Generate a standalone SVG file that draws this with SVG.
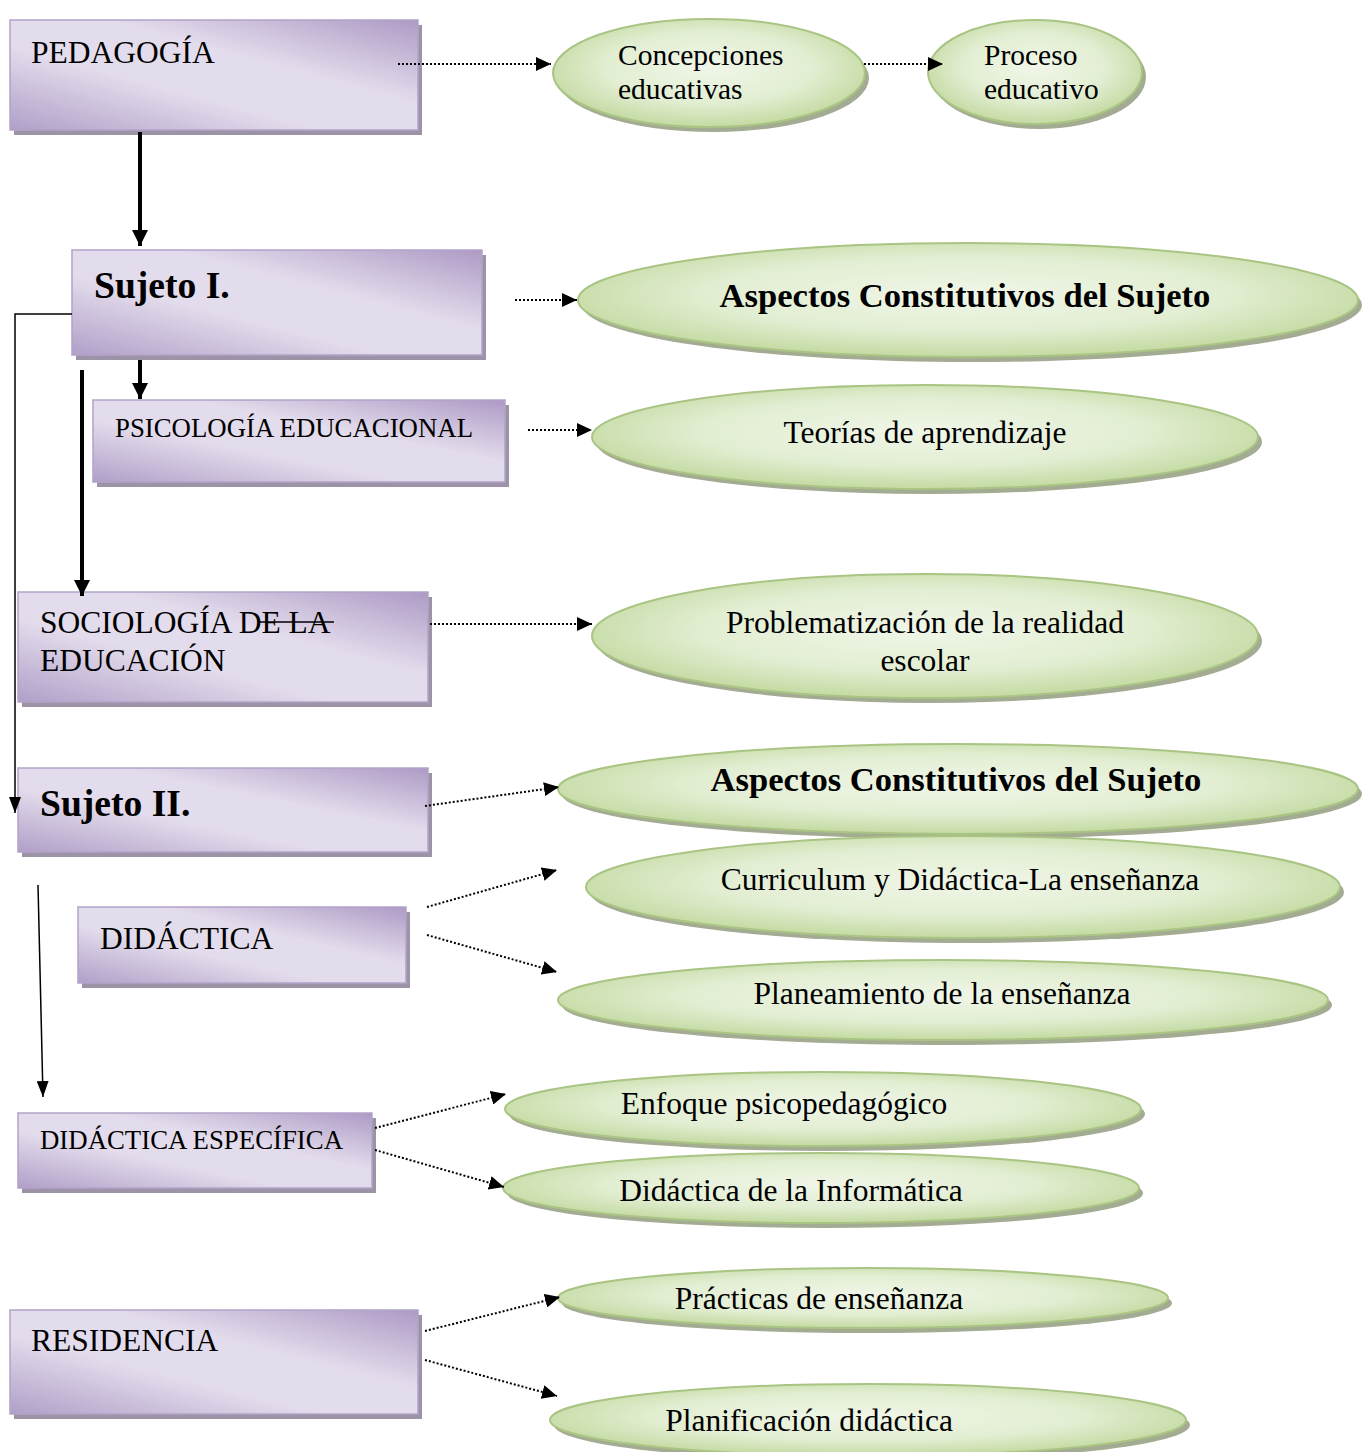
<svg xmlns="http://www.w3.org/2000/svg" width="1368" height="1452" viewBox="0 0 1368 1452">
<defs>
<linearGradient id="gRect" x1="1" y1="0" x2="0" y2="1">
<stop offset="0" stop-color="#ad9ac5"/>
<stop offset="0.38" stop-color="#e3dcec"/>
<stop offset="0.62" stop-color="#e3dcec"/>
<stop offset="1" stop-color="#b09fc8"/>
</linearGradient>
<radialGradient id="gEll" cx="0.5" cy="0.45" r="0.55">
<stop offset="0" stop-color="#f0f6e8"/>
<stop offset="0.6" stop-color="#e2eed2"/>
<stop offset="1" stop-color="#c4daa2"/>
</radialGradient>
<marker id="ah" markerUnits="userSpaceOnUse" markerWidth="16" markerHeight="14" refX="15" refY="7" orient="auto">
<path d="M0,0 L15,7 L0,14 z" fill="#000"/>
</marker>
<marker id="ahBig" markerUnits="userSpaceOnUse" markerWidth="16" markerHeight="16" refX="16" refY="8" orient="auto">
<path d="M0,0 L16,8 L0,16 z" fill="#000"/>
</marker>
<marker id="ahThin" markerUnits="userSpaceOnUse" markerWidth="16" markerHeight="12" refX="16" refY="6" orient="auto">
<path d="M0,0 L16,6 L0,12 z" fill="#000"/>
</marker>
</defs>
<style>
.shadow{fill:#9c94a6}
.box{fill:url(#gRect);stroke:#b3a3c9;stroke-width:1.5}
.eshadow{fill:#a3ab92}
.ell{fill:url(#gEll);stroke:#a9c483;stroke-width:2}
text{font-family:"Liberation Serif","Times New Roman",serif;fill:#000}
.t28{font-size:31.5px}
.t26{font-size:29.5px}
.t24{font-size:26.8px}
.b34{font-size:37.6px;font-weight:bold}
.b30{font-size:34.6px;font-weight:bold}
.dot{stroke:#000;stroke-width:2;stroke-dasharray:2 2;fill:none;marker-end:url(#ah)}
.thick{stroke:#000;stroke-width:4;fill:none;marker-end:url(#ahBig)}
.thin{stroke:#000;stroke-width:1.5;fill:none;marker-end:url(#ahThin)}
</style>

<g id="pedagogia">
<rect class="shadow" x="14" y="25" width="408" height="110"/>
<rect class="box" x="10" y="20" width="408" height="110"/>
<text class="t28" x="31" y="63">PEDAGOGÍA</text>
</g>
<g id="concepciones">
<ellipse class="eshadow" cx="713" cy="78" rx="156" ry="54"/>
<ellipse class="ell" cx="709" cy="73" rx="156" ry="54"/>
<text class="t26" x="618" y="65">Concepciones</text>
<text class="t26" x="618" y="99">educativas</text>
</g>
<g id="proceso">
<ellipse class="eshadow" cx="1039" cy="77" rx="107" ry="52"/>
<ellipse class="ell" cx="1035" cy="72" rx="107" ry="52"/>
<text class="t26" x="984" y="65">Proceso</text>
<text class="t26" x="984" y="99">educativo</text>
</g>

<g id="sujeto1">
<rect class="shadow" x="76" y="255" width="410" height="105"/>
<rect class="box" x="72" y="250" width="410" height="105"/>
<text class="b34" x="94" y="298">Sujeto I.</text>
</g>
<g id="aspectos1">
<ellipse class="eshadow" cx="972" cy="305" rx="390" ry="57"/>
<ellipse class="ell" cx="968" cy="300" rx="390" ry="57"/>
<text class="b30" x="965" y="307" text-anchor="middle">Aspectos Constitutivos del Sujeto</text>
</g>

<g id="psicologia">
<rect class="shadow" x="97" y="405" width="412" height="82"/>
<rect class="box" x="93" y="400" width="412" height="82"/>
<text class="t24" x="115" y="437">PSICOLOGÍA EDUCACIONAL</text>
</g>
<g id="teorias">
<ellipse class="eshadow" cx="929" cy="442" rx="333" ry="52"/>
<ellipse class="ell" cx="925" cy="437" rx="333" ry="52"/>
<text class="t28" x="925" y="443" text-anchor="middle">Teorías de aprendizaje</text>
</g>

<g id="sociologia">
<rect class="shadow" x="22" y="597" width="410" height="110"/>
<rect class="box" x="18" y="592" width="410" height="110"/>
<text class="t28" x="40" y="633">SOCIOLOGÍA DE LA</text>
<line x1="258" y1="622" x2="334" y2="622" stroke="#000" stroke-width="1.5"/>
<text class="t28" x="40" y="671">EDUCACIÓN</text>
</g>
<g id="problematizacion">
<ellipse class="eshadow" cx="929" cy="641" rx="333" ry="62"/>
<ellipse class="ell" cx="925" cy="636" rx="333" ry="62"/>
<text class="t28" x="925" y="633" text-anchor="middle">Problematización de la realidad</text>
<text class="t28" x="925" y="671" text-anchor="middle">escolar</text>
</g>

<g id="sujeto2">
<rect class="shadow" x="22" y="773" width="410" height="84"/>
<rect class="box" x="18" y="768" width="410" height="84"/>
<text class="b34" x="40" y="816">Sujeto II.</text>
</g>
<g id="aspectos2">
<ellipse class="eshadow" cx="962" cy="794" rx="400" ry="45"/>
<ellipse class="ell" cx="958" cy="789" rx="400" ry="45"/>
<text class="b30" x="956" y="791" text-anchor="middle">Aspectos Constitutivos del Sujeto</text>
</g>

<g id="didactica">
<rect class="shadow" x="82" y="912" width="328" height="76"/>
<rect class="box" x="78" y="907" width="328" height="76"/>
<text class="t28" x="100" y="949">DIDÁCTICA</text>
</g>
<g id="curriculum">
<ellipse class="eshadow" cx="967" cy="892" rx="377" ry="51"/>
<ellipse class="ell" cx="963" cy="887" rx="377" ry="51"/>
<text class="t28" x="960" y="890" text-anchor="middle">Curriculum y Didáctica-La enseñanza</text>
</g>
<g id="planeamiento">
<ellipse class="eshadow" cx="947" cy="1005" rx="385" ry="40"/>
<ellipse class="ell" cx="943" cy="1000" rx="385" ry="40"/>
<text class="t28" x="942" y="1004" text-anchor="middle">Planeamiento de la enseñanza</text>
</g>

<g id="didactica-especifica">
<rect class="shadow" x="22" y="1118" width="354" height="75"/>
<rect class="box" x="18" y="1113" width="354" height="75"/>
<text class="t24" x="40" y="1149">DIDÁCTICA ESPECÍFICA</text>
</g>
<g id="enfoque">
<ellipse class="eshadow" cx="827" cy="1114" rx="318" ry="37"/>
<ellipse class="ell" cx="823" cy="1109" rx="318" ry="37"/>
<text class="t28" x="784" y="1114" text-anchor="middle">Enfoque psicopedagógico</text>
</g>
<g id="informatica">
<ellipse class="eshadow" cx="825" cy="1193" rx="318" ry="35"/>
<ellipse class="ell" cx="821" cy="1188" rx="318" ry="35"/>
<text class="t28" x="791" y="1201" text-anchor="middle">Didáctica de la Informática</text>
</g>

<g id="residencia">
<rect class="shadow" x="14" y="1315" width="408" height="104"/>
<rect class="box" x="10" y="1310" width="408" height="104"/>
<text class="t28" x="31" y="1351">RESIDENCIA</text>
</g>
<g id="practicas">
<ellipse class="eshadow" cx="867" cy="1303" rx="305" ry="30"/>
<ellipse class="ell" cx="863" cy="1298" rx="305" ry="30"/>
<text class="t28" x="819" y="1309" text-anchor="middle">Prácticas de enseñanza</text>
</g>
<g id="planificacion">
<ellipse class="eshadow" cx="872" cy="1425" rx="318" ry="36"/>
<ellipse class="ell" cx="868" cy="1420" rx="318" ry="36"/>
<text class="t28" x="809" y="1431" text-anchor="middle">Planificación didáctica</text>
</g>

<g id="connectors">
<line class="dot" x1="398" y1="64" x2="551" y2="64"/>
<line class="dot" x1="864" y1="64" x2="943" y2="64"/>
<line class="thick" x1="140" y1="132" x2="140" y2="246"/>
<line class="dot" x1="515" y1="300" x2="577" y2="300"/>
<polyline class="thin" points="72,314 15,314 15,813"/>
<line class="thick" x1="140" y1="360" x2="140" y2="399"/>
<line class="thick" x1="82" y1="370" x2="82" y2="596"/>
<line class="dot" x1="528" y1="430" x2="592" y2="430"/>
<line class="dot" x1="430" y1="624" x2="592" y2="624"/>
<line class="dot" x1="425" y1="806" x2="559" y2="787"/>
<line class="thin" x1="38" y1="885" x2="43" y2="1097"/>
<line class="dot" x1="427" y1="907" x2="557" y2="870"/>
<line class="dot" x1="427" y1="935" x2="557" y2="972"/>
<line class="dot" x1="375" y1="1128" x2="506" y2="1094"/>
<line class="dot" x1="375" y1="1150" x2="504" y2="1187"/>
<line class="dot" x1="425" y1="1331" x2="560" y2="1297"/>
<line class="dot" x1="425" y1="1360" x2="557" y2="1396"/>
</g>
</svg>
